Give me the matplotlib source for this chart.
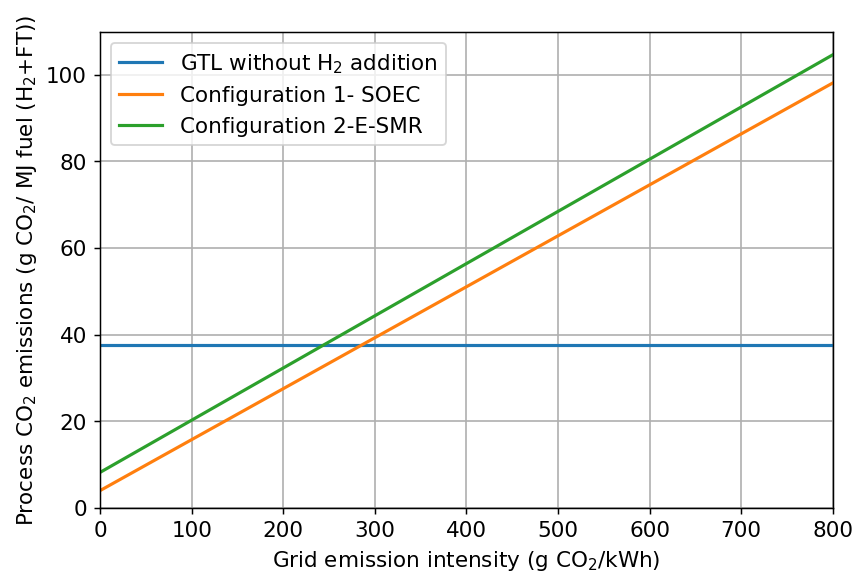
import numpy as np
import matplotlib.pyplot as plt

# grid emission intensity (g CO2/kWh)
grid_intensity = [0, 800]
# process CO2 emissions (g CO2/MJ fuel)
gtl_no_h2 = [37.7, 37.7]
config1_soec = [4.0, 98.1]
config2_esmr = [8.2, 104.6]

plt.rcParams['font.size'] = 11.6

fig = plt.figure(figsize=(6.4, 4.3), dpi=133.6)
ax = fig.add_axes([0.117, 0.115, 0.857, 0.828])

ax.plot(grid_intensity, gtl_no_h2, color='#1f77b4', lw=1.7, label=r'GTL without H$_2$ addition')
ax.plot(grid_intensity, config1_soec, color='#ff7f0e', lw=1.7, label='Configuration 1- SOEC')
ax.plot(grid_intensity, config2_esmr, color='#2ca02c', lw=1.7, label='Configuration 2-E-SMR')

ax.set_xlim(0, 800)
ax.set_ylim(0, 109.8)
ax.set_xlabel(r'Grid emission intensity (g CO$_2$/kWh)')
ax.set_ylabel(r'Process CO$_2$ emissions (g CO$_2$/ MJ fuel (H$_2$+FT))')
ax.grid(True, color='#b0b0b0', lw=0.9)
ax.legend(loc='upper left')

fig.savefig('out.png', dpi=133.6)
